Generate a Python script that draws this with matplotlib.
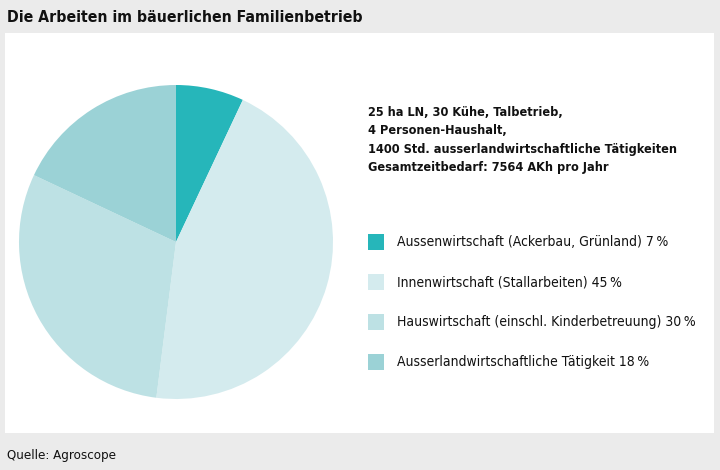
import matplotlib
matplotlib.use("Agg")
from matplotlib import pyplot as plt
from matplotlib.patches import Rectangle

# data
labels = ["Aussenwirtschaft (Ackerbau, Grünland)",
          "Innenwirtschaft (Stallarbeiten)",
          "Hauswirtschaft (einschl. Kinderbetreuung)",
          "Ausserlandwirtschaftliche Tätigkeit"]
shares = [7, 45, 30, 18]
colors = ["#26b6ba", "#d4ebee", "#bde1e4", "#9bd2d6"]

info_lines = ["25 ha LN, 30 Kühe, Talbetrieb,",
              "4 Personen-Haushalt,",
              "1400 Std. ausserlandwirtschaftliche Tätigkeiten",
              "Gesamtzeitbedarf: 7564 AKh pro Jahr"]

title = "Die Arbeiten im bäuerlichen Familienbetrieb"
source = "Quelle: Agroscope"

W, H = 720, 470
fig = plt.figure(figsize=(W / 100, H / 100), dpi=100, facecolor="#ebebeb")

# overlay in pixel coords for panel, texts and legend
bg = fig.add_axes([0, 0, 1, 1])
bg.set_xlim(0, W)
bg.set_ylim(H, 0)
bg.axis("off")
bg.add_patch(Rectangle((5, 33), 709, 400, facecolor="white", edgecolor="none"))

fam = ["DejaVu Sans"]
bg.text(7, 17, title, fontsize=11.3, fontweight="bold", family=fam,
        stretch="condensed", va="center", ha="left", color="#111111")
bg.text(7, 455, source, fontsize=9.5, family=fam, stretch="condensed",
        va="center", ha="left", color="#111111")

for i, line in enumerate(info_lines):
    bg.text(368, 113 + i * 18, line, fontsize=9.1, fontweight="bold",
            family=fam, stretch="condensed", va="center", ha="left",
            color="#111111")

for i, (lab, val, col) in enumerate(zip(labels, shares, colors)):
    y = 242 + i * 40
    bg.add_patch(Rectangle((368, y - 8), 16, 16, facecolor=col, edgecolor="none"))
    bg.text(397, y, f"{lab} {val}\u2009%", fontsize=10, family=fam,
            stretch="condensed", va="center", ha="left", color="#111111")

# pie
cx, cy, r = 176, 242, 157
ax = fig.add_axes([(cx - r) / W, (H - cy - r) / H, 2 * r / W, 2 * r / H])
ax.pie(shares, colors=colors, startangle=90, counterclock=False, radius=1,
       wedgeprops=dict(linewidth=0))
ax.set_xlim(-1, 1)
ax.set_ylim(-1, 1)
ax.axis("off")

fig.savefig("out.png", dpi=100, facecolor=fig.get_facecolor())
